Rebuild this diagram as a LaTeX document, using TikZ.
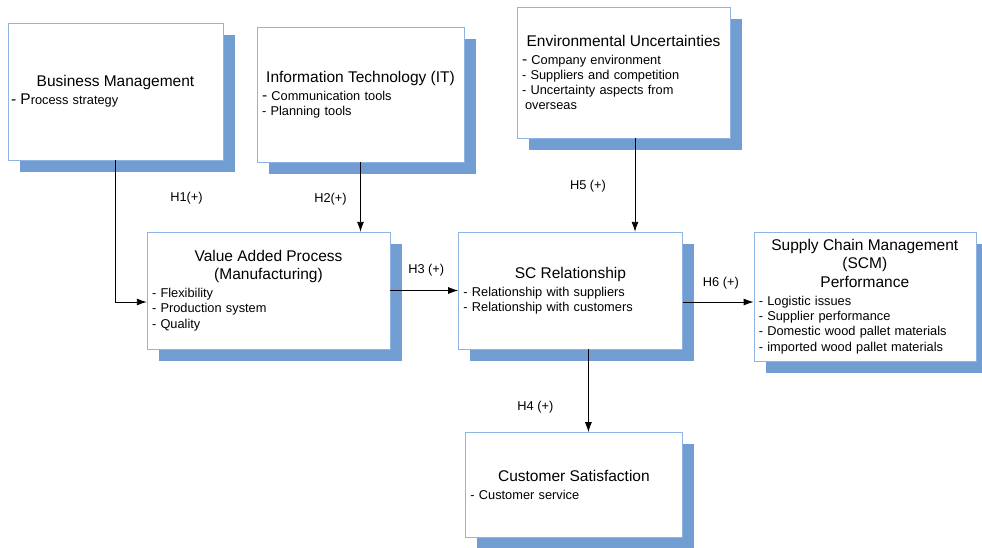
\documentclass[tikz,border=0pt]{standalone}
\usepackage{fontspec}
\setmainfont{Liberation Sans}
\usepackage{tikz}
\usetikzlibrary{positioning,shadows,arrows.meta}

\definecolor{shadowblue}{RGB}{114,157,211}
\definecolor{boxline}{RGB}{141,180,226}
\newcommand{\headfont}{\fontsize{15.5}{18.5}\selectfont}
\newcommand{\itemfont}{\fontsize{12.8}{15.3}\selectfont}
\newcommand{\boxhead}[1]{{\centering\headfont #1\par}\vspace{2.5pt}}

\begin{document}
\begin{tikzpicture}[x=1pt, y=-1pt,
        factor/.style={shape=rectangle, draw=boxline, fill=white, font=\itemfont,
            align=left, inner xsep=5pt, inner ysep=2pt,
            drop shadow={shadow xshift=12pt, shadow yshift=-12pt, fill=shadowblue, opacity=1}},
        arr/.style={-{Latex[length=10pt, width=7pt]}, line width=0.9pt},
        hyp/.style={font=\fontsize{12.8}{15}\selectfont, inner sep=1pt}]
            \useasboundingbox (0,0) rectangle (982,547);
            \node[factor, text width=209pt, inner xsep=3pt, minimum height=137pt] (BusMgmt) at (115.5,91.5)
                {\boxhead{Business Management}{\headfont - P}rocess strategy};
            \node[factor, text width=197pt, minimum height=135pt] (InfoTech) at (360.5,94.5)
                {\boxhead{Information Technology (IT)}{\headfont -} Communication tools\\- Planning tools};
            \node[factor, text width=203pt, minimum height=131pt] (EnvUnc) at (623.5,72.5)
                {\boxhead{Environmental Uncertainties}{\headfont -} Company environment\\- Suppliers and competition\\- Uncertainty aspects from\\\hspace{3pt}overseas};
            \node[factor, text width=233pt, minimum height=117pt] (ValAdd) at (268.5,290.5)
                {\boxhead{Value Added Process\\(Manufacturing)}- Flexibility\\- Production system\\- Quality\par\vspace{14pt}};
            \node[factor, text width=214pt, minimum height=117pt] (SCRel) [right=68pt of ValAdd]
                {\boxhead{SC Relationship}- Relationship with suppliers\\- Relationship with customers\par\vspace{14pt}};
            \node[factor, text width=212pt, minimum height=129pt] (SCM) [right=71pt of SCRel.north east, anchor=north west]
                {\boxhead{Supply Chain Management\\(SCM)\\Performance}- Logistic issues\\- Supplier performance\\- Domestic wood pallet materials\\- imported wood pallet materials};
            \node[factor, text width=207pt, minimum height=105pt] (CustSat) [below=83pt of SCRel, xshift=3.5pt]
                {\boxhead{Customer Satisfaction}- Customer service};

            \coordinate (h1end) at ([yshift=-11.5pt]ValAdd.west);
            \coordinate (h5start) at ([xshift=11.5pt]EnvUnc.south);
            \coordinate (h4start) at ([xshift=18pt]SCRel.south);
            \coordinate (h6end) at ([yshift=-5.5pt]SCM.west);
            \draw[arr] (BusMgmt.south) |- node[hyp, pos=0.134, xshift=71pt] {H1(+)} (h1end);
            \draw[arr] (InfoTech.south) -- node[hyp, pos=0.53, xshift=-30pt] {H2(+)} (InfoTech.south |- ValAdd.north);
            \draw[arr] (ValAdd) -- node[hyp, pos=0.53, yshift=20.5pt] {H3 (+)} (SCRel);
            \draw[arr] (h5start) -- node[hyp, pos=0.51, xshift=-47pt] {H5 (+)} (h5start |- SCRel.north);
            \draw[arr] (SCRel.east |- h6end) -- node[hyp, pos=0.54, yshift=19pt] {H6 (+)} (h6end);
            \draw[arr] (h4start) -- node[hyp, pos=0.70, xshift=-53pt] {H4 (+)} (h4start |- CustSat.north);
        \end{tikzpicture}
\end{document}
